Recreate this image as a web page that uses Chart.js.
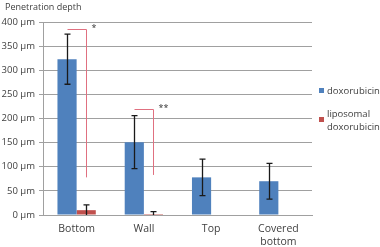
<!DOCTYPE html>
<html><head><meta charset="utf-8">
<script src="https://cdn.jsdelivr.net/npm/chart.js@4"></script>
<style>html,body{margin:0;padding:0;background:#fff}#wrap{width:380px;height:247px;position:relative}</style>
</head><body><div id="wrap"><canvas id="c"></canvas></div>
<script>
const categories = ['Bottom', 'Wall', 'Top', ['Covered', 'bottom']];
const seriesNames = ['doxorubicin', ['liposomal', 'doxorubicin']];
const doxorubicin = [323, 151, 78, 70];
const doxorubicinErr = [52, 55, 38, 37];
const liposomal = [10, 2, null, null];
const liposomalErr = [11, 5, null, null];
const bracketTop = [385, 220];
const bracketBottom = [78, 83];
const bracketLabels = ['*', '**'];
const yTicks = [0, 50, 100, 150, 200, 250, 300, 350, 400];

const FONT = '"Open Sans", sans-serif';
const TXT = '#404040';
const BLUE = '#4F81BD', RED = '#C0504D';

const overlay = {
  id: 'overlay',
  afterDatasetsDraw(chart) {
    const ctx = chart.ctx, y = chart.scales.y;
    const errs = [doxorubicinErr, liposomalErr];
    const vals = [doxorubicin, liposomal];
    ctx.save();
    ctx.strokeStyle = '#1a1a1a'; ctx.lineWidth = 1.3;
    for (let d = 0; d < 2; d++) {
      const meta = chart.getDatasetMeta(d);
      meta.data.forEach((el, i) => {
        const v = vals[d][i], e = errs[d][i];
        if (v == null || e == null) return;
        const top = y.getPixelForValue(v + e), bot = y.getPixelForValue(Math.max(0, v - e));
        const x = Math.round(el.x) + 0.5;
        ctx.beginPath();
        ctx.moveTo(x, top); ctx.lineTo(x, bot);
        ctx.moveTo(x - 3, top); ctx.lineTo(x + 3, top);
        if (v - e > 0) { ctx.moveTo(x - 3, bot); ctx.lineTo(x + 3, bot); }
        ctx.stroke();
      });
    }
    const m0 = chart.getDatasetMeta(0), m1 = chart.getDatasetMeta(1);
    ctx.strokeStyle = '#E07080'; ctx.lineWidth = 1;
    ctx.fillStyle = '#333';
    ctx.font = '9px ' + FONT;
    bracketTop.forEach((t, i) => {
      const x0 = Math.round(m0.data[i].x) + 0.5, x1 = Math.round(m1.data[i].x) + 0.5;
      const yt = Math.round(y.getPixelForValue(t)) + 0.5, yb = y.getPixelForValue(bracketBottom[i]);
      ctx.beginPath();
      ctx.moveTo(x0, yt); ctx.lineTo(x1, yt); ctx.lineTo(x1, yb);
      ctx.stroke();
      ctx.textAlign = 'left'; ctx.textBaseline = 'middle';
      ctx.fillText(bracketLabels[i], x1 + 5, yt - 1);
    });
    ctx.fillStyle = TXT; ctx.font = '9px ' + FONT;
    ctx.textAlign = 'left'; ctx.textBaseline = 'middle';
    ctx.fillText('Penetration depth', 5, 7);
    const lx = chart.chartArea.right + 7;
    ctx.font = '9.5px ' + FONT;
    ctx.fillStyle = BLUE; ctx.fillRect(lx, 88, 5, 5);
    ctx.fillStyle = TXT; ctx.fillText(seriesNames[0], lx + 8, 91);
    ctx.fillStyle = RED; ctx.fillRect(lx, 117, 5, 5);
    ctx.fillStyle = TXT;
    ctx.fillText(seriesNames[1][0], lx + 8, 114);
    ctx.fillText(seriesNames[1][1], lx + 8, 127);
    ctx.restore();
  }
};

new Chart(document.getElementById('c'), {
  type: 'bar',
  data: {
    labels: categories,
    datasets: [
      { label: 'doxorubicin', data: doxorubicin, backgroundColor: BLUE },
      { label: 'liposomal doxorubicin', data: liposomal, backgroundColor: RED }
    ]
  },
  options: {
    responsive: true, maintainAspectRatio: false, animation: false,
    devicePixelRatio: 1,
    categoryPercentage: 0.57, barPercentage: 1.0,
    layout: { padding: { top: 22, right: 68, left: 0, bottom: 0 } },
    plugins: { legend: { display: false }, tooltip: { enabled: false } },
    scales: {
      x: {
        grid: { display: false, drawTicks: false },
        border: { color: '#a0a0a0' },
        ticks: { color: TXT, font: { family: FONT, size: 10.5, lineHeight: 1.2 }, padding: 8, maxRotation: 0, autoSkip: false },
        afterFit(s) { s.height = 32; }
      },
      y: {
        min: 0, max: 400,
        afterBuildTicks(s) { s.ticks = yTicks.map(v => ({ value: v })); },
        grid: { color: '#a0a0a0', tickLength: 4, drawTicks: true },
        border: { color: '#a0a0a0' },
        ticks: { color: TXT, font: { family: FONT, size: 9.5 }, padding: 4, callback: v => v + ' µm' },
        afterFit(s) { s.width = 43; }
      }
    }
  },
  plugins: [overlay]
});
</script></body></html>
